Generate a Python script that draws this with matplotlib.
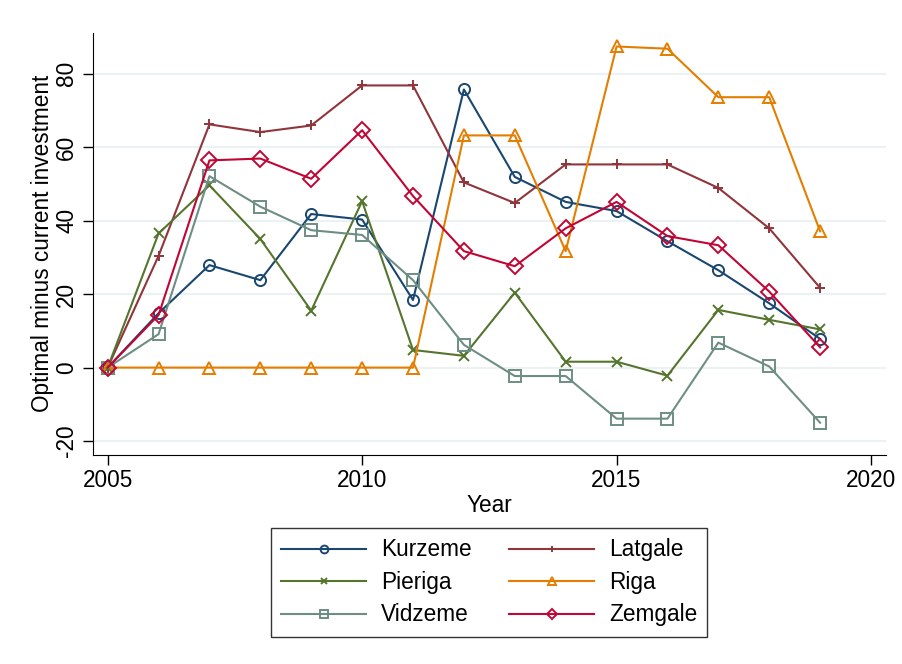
import numpy as np
import matplotlib
matplotlib.use('Agg')
import matplotlib.pyplot as plt

plt.rcParams['font.family'] = ['Liberation Sans', 'DejaVu Sans']

years = np.arange(2005, 2020)

# valores
kurzeme = [0, 14.8, 27.9, 23.8, 41.8, 40.3, 18.4, 75.7, 51.9, 45.1, 42.6, 34.4, 26.5, 17.5, 7.8]
latgale = [0, 30.4, 66.2, 64.1, 65.9, 76.8, 76.8, 50.4, 44.8, 55.3, 55.3, 55.3, 48.9, 37.9, 21.7]
pieriga = [0, 36.5, 49.6, 35.0, 15.5, 45.3, 4.8, 3.2, 20.4, 1.6, 1.6, -2.2, 15.7, 13.0, 10.4]
riga = [0, 0, 0, 0, 0, 0, 0, 63.2, 63.2, 31.7, 87.4, 86.8, 73.6, 73.6, 37.1]
vidzeme = [0, 9.1, 52.1, 43.8, 37.4, 36.1, 23.8, 6.2, -2.3, -2.3, -13.9, -13.9, 6.8, 0.3, -15.0]
zemgale = [0, 14.3, 56.4, 56.9, 51.4, 64.6, 46.7, 31.7, 27.6, 37.9, 45.1, 35.8, 33.3, 20.7, 5.5]

series = [
    ('Kurzeme', kurzeme, '#1a476f', 'o'),
    ('Latgale', latgale, '#90353b', '+'),
    ('Pieriga', pieriga, '#55752f', 'x'),
    ('Riga', riga, '#e37e00', '^'),
    ('Vidzeme', vidzeme, '#6e8e84', 's'),
    ('Zemgale', zemgale, '#c10534', 'D'),
]

fs = 16.3

fig = plt.figure(figsize=(9.02, 6.64), dpi=100)
ax = fig.add_axes([0.103, 0.315, 0.879, 0.636])

lineas = {}
for nombre, vals, col, mk in series:
    ms = 8
    if mk == '^':
        ms = 9
    elif mk in ('+', 'x'):
        ms = 7
    l, = ax.plot(years, vals, color=col, marker=mk, markersize=ms, markerfacecolor='none',
                 markeredgecolor=col, markeredgewidth=1.4, linewidth=1.5, label=nombre)
    lineas[nombre] = l

ax.set_xlim(2004.71, 2020.29)
ax.set_ylim(-23.75, 91.2)
ax.set_xticks([2005, 2010, 2015, 2020])
ax.set_yticks([-20, 0, 20, 40, 60, 80])
ax.set_yticklabels(['-20', '0', '20', '40', '60', '80'], rotation=90, va='center')
ax.grid(True, axis='y', color='#eaf2f3', linewidth=1.5)
ax.set_axisbelow(True)
ax.spines['top'].set_visible(False)
ax.spines['right'].set_visible(False)
ax.tick_params(axis='both', labelsize=fs, length=7, width=1, direction='out')
ax.set_xlabel('Year', fontsize=fs, labelpad=1)
ax.set_ylabel('Optimal minus current investment', fontsize=fs, labelpad=1)

# orden por columnas como en el original
orden = ['Kurzeme', 'Pieriga', 'Vidzeme', 'Latgale', 'Riga', 'Zemgale']
leg = fig.legend([lineas[n] for n in orden], orden, loc='center',
                 bbox_to_anchor=(0.5425, 0.1228), ncol=2, fontsize=fs,
                 frameon=True, fancybox=False, edgecolor='black', markerscale=0.7,
                 handlelength=3.75, handletextpad=0.66, columnspacing=1.65,
                 borderpad=0.45, labelspacing=0.42)
leg.get_frame().set_linewidth(1.0)

plt.savefig('out.png', dpi=100)
